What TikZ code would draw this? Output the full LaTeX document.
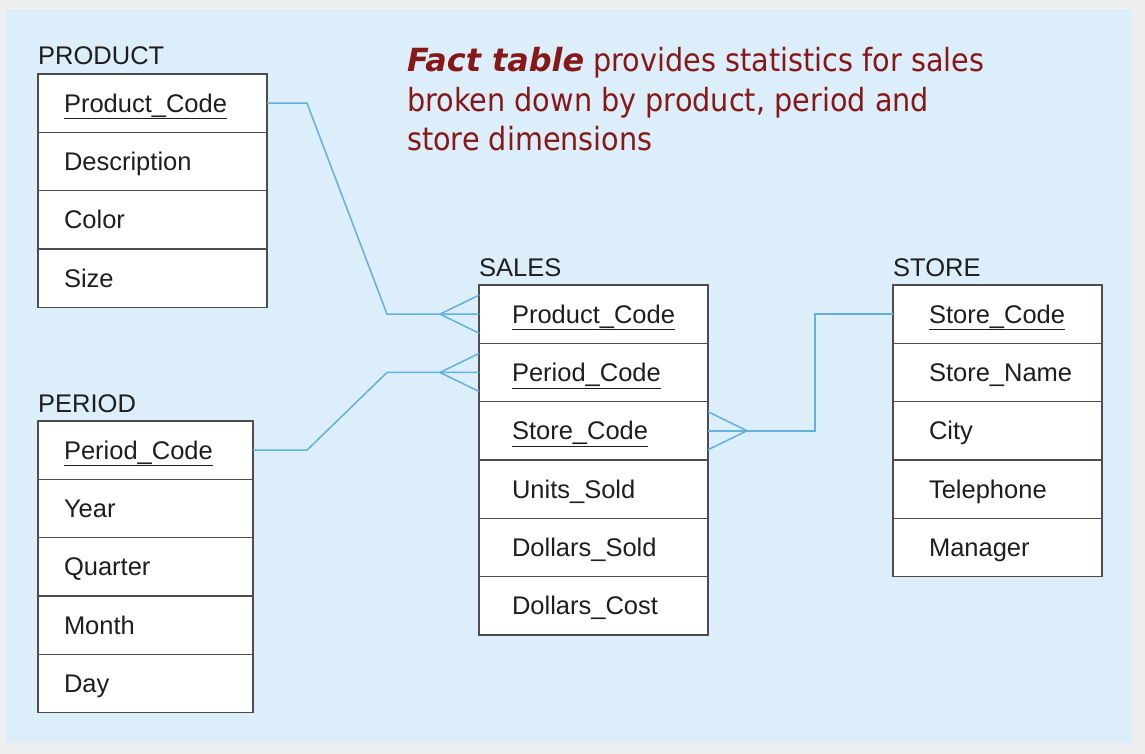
\documentclass[tikz,border=0pt]{standalone}
\usepackage{fontspec}
\setmainfont{Liberation Sans}
\newfontfamily\notefont[FakeStretch=0.9]{DejaVu Sans}
\newfontfamily\noteboldfont{DejaVu Sans}
\usepackage{tikz}
\usepackage{xcolor}
\usetikzlibrary{positioning,calc}
\definecolor{frame}{HTML}{EDEFF1}
\definecolor{panel}{HTML}{DCEEF9}
\definecolor{ink}{HTML}{1E1E1E}
\definecolor{boxgray}{HTML}{4D4D4D}
\definecolor{linkblue}{HTML}{62B0DB}
\definecolor{notered}{HTML}{861818}
\newcommand{\keyattr}[1]{\underline{#1}}
\tikzset{
  rowbox/.style={draw=boxgray,fill=white,line width=1.4pt,outer sep=0pt,
                 minimum height=58.3pt,text height=18pt,text depth=0pt,
                 inner ysep=0pt,align=left,text=ink,
                 font=\fontsize{25.5}{30}\selectfont},
  prodrow/.style={rowbox,text width=177pt,inner xsep=26pt},
  perrow/.style={rowbox,text width=163pt,inner xsep=26pt},
  salerow/.style={rowbox,text width=163pt,inner xsep=33pt},
  storerow/.style={rowbox,text width=137pt,inner xsep=36pt},
  tabletitle/.style={anchor=base west,inner sep=0pt,text=ink,
                     font=\fontsize{25.5}{30}\selectfont},
  link/.style={draw=linkblue,line width=1.5pt}
}

\begin{document}
\begin{tikzpicture}[x=1pt,y=-1pt]
  \useasboundingbox (0,0) rectangle (1145,754);
  \fill[frame] (0,0) rectangle (1145,754);
  \fill[panel] (6,10) rectangle (1132,743);

  % PRODUCT
  \node[prodrow] (prod1) at (152.5,103.15) {\keyattr{Product\_Code}};
  \foreach \txt [count=\i from 2] in {Description,Color,Size} {
    \pgfmathtruncatemacro\prev{\i-1}
    \node[prodrow,below=0pt of prod\prev] (prod\i) {\txt};
  }
  \node[tabletitle] (prodtitle) at ([yshift=9pt]prod1.north west) {PRODUCT};

  % PERIOD
  \node[perrow] (per1) at (145.5,450.15) {\keyattr{Period\_Code}};
  \foreach \txt [count=\i from 2] in {Year,Quarter,Month,Day} {
    \pgfmathtruncatemacro\prev{\i-1}
    \node[perrow,below=0pt of per\prev] (per\i) {\txt};
  }
  \node[tabletitle] (pertitle) at ([yshift=9pt]per1.north west) {PERIOD};

  % SALES (fact table)
  \node[salerow] (sale1) at (593.5,314.15) {\keyattr{Product\_Code}};
  \foreach \txt [count=\i from 2] in {\keyattr{Period\_Code},\keyattr{Store\_Code},
                                      Units\_Sold,Dollars\_Sold,Dollars\_Cost} {
    \pgfmathtruncatemacro\prev{\i-1}
    \node[salerow,below=0pt of sale\prev] (sale\i) {\txt};
  }
  \node[tabletitle] (saletitle) at ([yshift=9pt]sale1.north west) {SALES};

  % STORE
  \node[storerow] (store1) at (997.5,314.15) {\keyattr{Store\_Code}};
  \foreach \txt [count=\i from 2] in {Store\_Name,City,Telephone,Manager} {
    \pgfmathtruncatemacro\prev{\i-1}
    \node[storerow,below=0pt of store\prev] (store\i) {\txt};
  }
  \node[tabletitle] (storetitle) at ([yshift=9pt]store1.north west) {STORE};

  % links with crow's feet on the fact side
  \draw[link] (prod1.east) -- ++(40,0) -- ($(sale1.west)+(-92,0)$) -- (sale1.west);
  \draw[link] ($(sale1.west)+(-39,0)$) -- ($(sale1.west)+(0,-19)$);
  \draw[link] ($(sale1.west)+(-39,0)$) -- ($(sale1.west)+(0,19)$);

  \draw[link] (per1.east) -- ++(54,0) -- ($(sale2.west)+(-92,0)$) -- (sale2.west);
  \draw[link] ($(sale2.west)+(-39,0)$) -- ($(sale2.west)+(0,-19)$);
  \draw[link] ($(sale2.west)+(-39,0)$) -- ($(sale2.west)+(0,19)$);

  \draw[link] (store1.west) -- ++(-78,0) |- (sale3.east);
  \draw[link] ($(sale3.east)+(39,0)$) -- ($(sale3.east)+(0,-19)$);
  \draw[link] ($(sale3.east)+(39,0)$) -- ($(sale3.east)+(0,19)$);

  \node[anchor=base west,inner sep=0pt,align=left,text=notered,
        font=\notefont\fontsize{31.9}{39.5}\selectfont] (note) at (407,151)
    {{\noteboldfont\bfseries\itshape Fact table} provides statistics for sales\\
     broken down by product, period and\\
     store dimensions};
\end{tikzpicture}
\end{document}
